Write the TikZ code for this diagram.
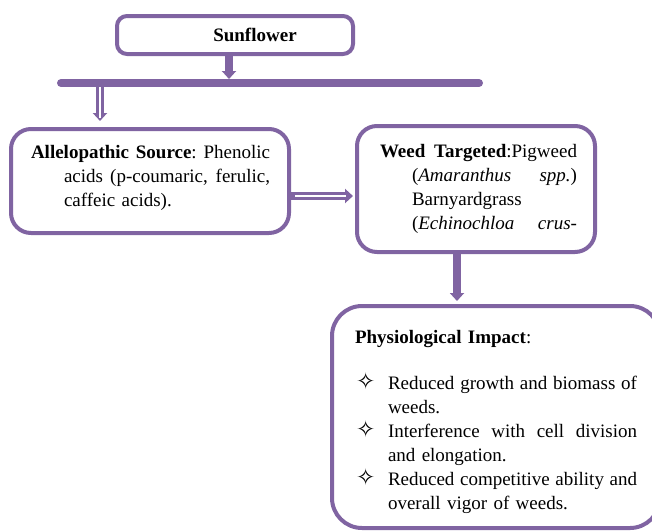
\documentclass[tikz,border=0pt]{standalone}
\usepackage{fontspec}
\setmainfont{Liberation Serif}
\newfontfamily\symfont{DejaVu Sans}
\usetikzlibrary{positioning}
\usetikzlibrary{arrows.meta}
\definecolor{vio}{HTML}{8064A2}
\newcommand{\jline}[2]{\makebox[#1pt][s]{\spaceskip=0.25em plus 1fil\xspaceskip=0.25em plus 1fil\relax #2}}
\newcommand{\bul}{\hspace*{1pt}\makebox[32pt][l]{{\symfont\fontsize{23}{24}\selectfont ✧}}}

\begin{document}
\begin{tikzpicture}[x=1pt, y=-1pt,
    box/.style={draw=vio, line width=4pt, fill=white, align=left, anchor=north west,
      font=\fontsize{19}{24}\selectfont},
    bararrow/.style={draw=vio, line width=8pt, -{Triangle[width=14pt,length=8pt]}},
    dblarrow/.style={bararrow, postaction={draw=white, line width=2pt, -, shorten >=9pt, shorten <=4pt}}]
  \clip (0,0) rectangle (652,530);

  \node [box, rounded corners=10pt, minimum width=236pt, minimum height=38pt] (sun) at (115,14)
    {\hspace*{40pt}\textbf{Sunflower}};

  \node [box, rounded corners=20pt, inner xsep=20pt, text width=238pt, minimum height=104pt] (src) at (9,127)
    {\jline{239}{\textbf{Allelopathic Source}: Phenolic}\\
     \hspace*{33pt}\jline{206}{acids (p-coumaric, ferulic,}\\
     \hspace*{33pt}caffeic acids).\rule[-10pt]{0pt}{0pt}};

  \node [box, rounded corners=20pt, inner xsep=23pt, text width=192pt, minimum height=126pt] (tgt) at (355,124)
    {\jline{197}{\textbf{Weed Targeted}:Pigweed}\\
     \hspace*{32pt}\jline{165}{(\textit{Amaranthus} \textit{spp.})}\\
     \hspace*{32pt}Barnyardgrass\\
     \hspace*{32pt}\jline{165}{(\textit{Echinochloa} \textit{crus-}}};

  \node [box, rounded corners=30pt, inner xsep=23pt, text width=282pt, minimum height=222pt] (imp) at (330,304)
    {\rule{0pt}{24pt}\textbf{Physiological Impact}:\\[22pt]
     \bul\jline{249}{Reduced growth and biomass of}\\
     \hspace*{33pt}weeds.\\
     \bul\jline{249}{Interference with cell division}\\
     \hspace*{33pt}and elongation.\\
     \bul\jline{249}{Reduced competitive ability and}\\
     \hspace*{33pt}overall vigor of weeds.};

  % bar under the top box
  \coordinate (barL) at (61,83);
  \coordinate (barR) at (479,83);
  \coordinate (barA) at (100,83);

  \draw [bararrow, shorten >=4pt] ([xshift=-6pt]sun.south) -- ([xshift=-6pt]sun.south |- barL);
  \draw [vio, line width=8pt, line cap=round] (barL) -- (barR);
  \draw [dblarrow, shorten >=6pt] (barA) -- (barA |- src.north);
  \draw [dblarrow, shorten >=2pt] ([yshift=-15pt]src.east) -- ([yshift=-15pt]src.east -| tgt.west);
  \draw [bararrow, shorten >=3pt] ([xshift=-19pt]tgt.south) -- ([xshift=-19pt]tgt.south |- imp.north);

\end{tikzpicture}
\end{document}
